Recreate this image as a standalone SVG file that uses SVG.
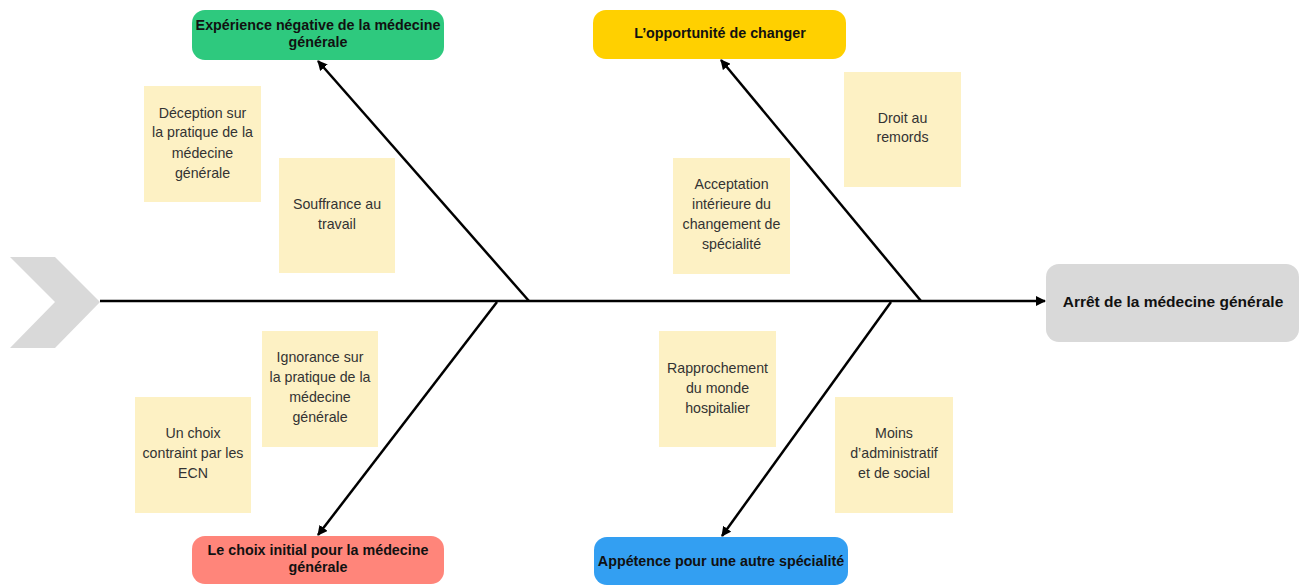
<svg xmlns="http://www.w3.org/2000/svg" width="1307" height="585" viewBox="0 0 1307 585">
<style>
.cat{font-family:"Liberation Sans",Arial,sans-serif;font-weight:bold;font-size:14.3px;fill:#111;text-anchor:middle}
.note rect{fill:#fdf1c4}
.note text{font-family:"Liberation Sans",Arial,sans-serif;font-size:14.2px;fill:#333;text-anchor:middle}
.conn line{stroke:#000;stroke-width:2.5;fill:none}
</style>
<defs>
<marker id="ah" viewBox="0 0 10 10" refX="9" refY="5" markerWidth="4" markerHeight="4" orient="auto" markerUnits="strokeWidth">
<path d="M0,0 L10,5 L0,10 z" fill="#000"/>
</marker>
</defs>
<rect width="1307" height="585" fill="#fff"/>
<g id="chevron"><polygon points="10,257 55,257 100,302 55,348 10,348 55,302" fill="#d9d9d9"/></g>
<g class="conn" id="connectors">
<line x1="100" y1="301" x2="1045" y2="301" marker-end="url(#ah)"/>
<line x1="529" y1="301" x2="318" y2="61" marker-end="url(#ah)"/>
<line x1="921" y1="301" x2="721" y2="60" marker-end="url(#ah)"/>
<line x1="497" y1="302" x2="318" y2="535" marker-end="url(#ah)"/>
<line x1="891" y1="302" x2="722" y2="536" marker-end="url(#ah)"/>
</g>
<g id="cat-experience"><rect x="192" y="10" width="252" height="50" rx="13" fill="#2ec97e"/>
<text class="cat" x="318" y="30">Expérience négative de la médecine</text><text class="cat" x="318" y="47">générale</text></g>
<g id="cat-opportunite"><rect x="593" y="10" width="253" height="49" rx="13" fill="#ffd000"/>
<text class="cat" x="720" y="38">L’opportunité de changer</text></g>
<g id="cat-choix"><rect x="192" y="536" width="252" height="48" rx="13" fill="#ff857a"/>
<text class="cat" x="318" y="555">Le choix initial pour la médecine</text><text class="cat" x="318" y="572">générale</text></g>
<g id="cat-appetence"><rect x="594" y="537" width="254" height="48" rx="13" fill="#339ff2"/>
<text class="cat" x="721" y="566">Appétence pour une autre spécialité</text></g>
<g id="effect"><rect x="1046" y="264" width="253" height="78" rx="13" fill="#d9d9d9"/>
<text class="cat" x="1173" y="307" style="font-size:15.5px">Arrêt de la médecine générale</text></g>
<g id="note-deception" class="note"><rect x="144" y="86" width="117" height="116"/>
<text x="202.5" y="118">Déception sur</text><text x="202.5" y="137">la pratique de la</text><text x="202.5" y="158">médecine</text><text x="202.5" y="178">générale</text></g>
<g id="note-souffrance" class="note"><rect x="279" y="158" width="116" height="115"/>
<text x="337" y="209">Souffrance au</text><text x="337" y="229">travail</text></g>
<g id="note-acceptation" class="note"><rect x="673" y="158" width="117" height="116"/>
<text x="731.5" y="189">Acceptation</text><text x="731.5" y="209">intérieure du</text><text x="731.5" y="229">changement de</text><text x="731.5" y="249">spécialité</text></g>
<g id="note-droit" class="note"><rect x="844" y="72" width="117" height="115"/>
<text x="902.5" y="123">Droit au</text><text x="902.5" y="142">remords</text></g>
<g id="note-ignorance" class="note"><rect x="262" y="331" width="116" height="116"/>
<text x="320" y="362">Ignorance sur</text><text x="320" y="382">la pratique de la</text><text x="320" y="402">médecine</text><text x="320" y="422">générale</text></g>
<g id="note-ecn" class="note"><rect x="135" y="397" width="116" height="116"/>
<text x="193" y="438">Un choix</text><text x="193" y="458">contraint par les</text><text x="193" y="478">ECN</text></g>
<g id="note-rapprochement" class="note"><rect x="659" y="331" width="117" height="116"/>
<text x="717.5" y="373">Rapprochement</text><text x="717.5" y="393">du monde</text><text x="717.5" y="413">hospitalier</text></g>
<g id="note-moins" class="note"><rect x="835" y="397" width="118" height="116"/>
<text x="894" y="438">Moins</text><text x="894" y="458">d’administratif</text><text x="894" y="478">et de social</text></g>
</svg>
